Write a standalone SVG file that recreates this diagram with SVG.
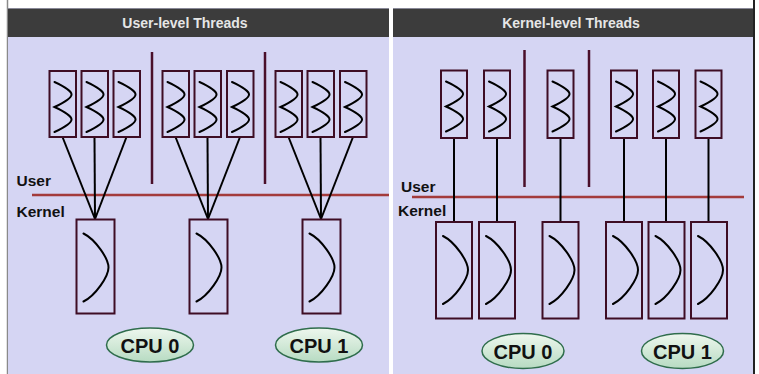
<svg xmlns="http://www.w3.org/2000/svg" width="759" height="374" viewBox="0 0 759 374">
<style>
.panel{fill:#d5d5f3}
.hdr{fill:#3c3c3c}
.hdrtxt{font-family:"Liberation Sans",Arial,sans-serif;font-weight:bold;font-size:14px;fill:#e6e6e6;text-anchor:middle}
.box{fill:none;stroke:#3e0d24;stroke-width:2}
.sq{fill:none;stroke:#000;stroke-width:2;stroke-linecap:round}
.div{stroke:#4a0f2a;stroke-width:2.5}
.uk{stroke:#a33b3b;stroke-width:2.5}
.lbl{font-family:"Liberation Sans",Arial,sans-serif;font-weight:bold;font-size:15.5px;fill:#111}
.conn{stroke:#000;stroke-width:2;fill:none}
.cpu{fill:url(#cpuGrad);stroke:#2f6d4c;stroke-width:1.5}
.cputxt{font-family:"Liberation Sans",Arial,sans-serif;font-weight:bold;font-size:20px;fill:#111;text-anchor:middle}
</style>
<defs>
<linearGradient id="cpuGrad" x1="0" y1="0" x2="0" y2="1">
<stop offset="0" stop-color="#eef7ee"/>
<stop offset="1" stop-color="#b7dbc2"/>
</linearGradient>
<path id="sqTop" d="M5,11 C27.7,21.6 27.7,25.4 5,36 C27.7,46.6 27.7,50.4 5,61"/>
<path id="sqK" d="M7,14 C19,20 32,39 32,48 C32,57 19,76 7,82"/>
</defs>

<!-- background frame -->
<rect x="0" y="0" width="759" height="374" fill="#ffffff"/>
<line x1="7.5" y1="0" x2="7.5" y2="374" stroke="#8a8a8a" stroke-width="1.5"/>
<line x1="754" y1="0" x2="754" y2="374" stroke="#222" stroke-width="2"/>

<!-- Left panel -->
<g id="panel-user">
<rect class="panel" x="8" y="8" width="381" height="366"/>
<rect class="hdr" x="8" y="8.5" width="381" height="28.5"/>
<text class="hdrtxt" x="185" y="28">User-level Threads</text>
</g>

<!-- Right panel -->
<g id="panel-kernel">
<rect class="panel" x="393" y="8" width="360" height="366"/>
<rect class="hdr" x="393" y="8.5" width="360" height="28.5"/>
<text class="hdrtxt" x="571" y="28">Kernel-level Threads</text>
</g>

<!-- separators and user/kernel lines -->
<g id="boundaries">
<line class="div" x1="152" y1="52" x2="152" y2="184"/>
<line class="div" x1="265" y1="52" x2="265" y2="184"/>
<line class="uk" x1="32" y1="195" x2="389" y2="195"/>
<text class="lbl" x="16.5" y="186">User</text>
<text class="lbl" x="16.5" y="217">Kernel</text>

<line class="div" x1="524.5" y1="50" x2="524.5" y2="187"/>
<line class="div" x1="589" y1="50" x2="589" y2="187"/>
<line class="uk" x1="412" y1="197" x2="744" y2="197"/>
<text class="lbl" x="401" y="192">User</text>
<text class="lbl" x="398" y="216">Kernel</text>
</g>

<!-- connectors -->
<g id="connectors">
<line class="conn" x1="62.5" y1="137" x2="95" y2="219"/>
<line class="conn" x1="94.5" y1="137" x2="95" y2="219"/>
<line class="conn" x1="126.5" y1="137" x2="95" y2="219"/>
<line class="conn" x1="175.5" y1="137" x2="208" y2="219"/>
<line class="conn" x1="207.5" y1="137" x2="208" y2="219"/>
<line class="conn" x1="240" y1="137" x2="208" y2="219"/>
<line class="conn" x1="288.5" y1="137" x2="321" y2="219"/>
<line class="conn" x1="320.5" y1="137" x2="321" y2="219"/>
<line class="conn" x1="353" y1="137" x2="321" y2="219"/>

<line class="conn" x1="454" y1="138" x2="454" y2="222"/>
<line class="conn" x1="497" y1="138" x2="497" y2="222"/>
<line class="conn" x1="560.5" y1="138" x2="560.5" y2="222"/>
<line class="conn" x1="624" y1="138" x2="624" y2="222"/>
<line class="conn" x1="666" y1="138" x2="666" y2="222"/>
<line class="conn" x1="708.5" y1="138" x2="708.5" y2="222"/>
</g>

<!-- Left: user threads -->
<g id="ut-l1" transform="translate(49.5,71)"><rect class="box" width="26.5" height="66"/><use href="#sqTop" class="sq"/></g>
<g id="ut-l2" transform="translate(81.5,71)"><rect class="box" width="26.5" height="66"/><use href="#sqTop" class="sq"/></g>
<g id="ut-l3" transform="translate(113.5,71)"><rect class="box" width="26.5" height="66"/><use href="#sqTop" class="sq"/></g>
<g id="ut-l4" transform="translate(162.5,71)"><rect class="box" width="26.5" height="66"/><use href="#sqTop" class="sq"/></g>
<g id="ut-l5" transform="translate(194.5,71)"><rect class="box" width="26.5" height="66"/><use href="#sqTop" class="sq"/></g>
<g id="ut-l6" transform="translate(227,71)"><rect class="box" width="26.5" height="66"/><use href="#sqTop" class="sq"/></g>
<g id="ut-l7" transform="translate(275.5,71)"><rect class="box" width="26.5" height="66"/><use href="#sqTop" class="sq"/></g>
<g id="ut-l8" transform="translate(307.5,71)"><rect class="box" width="26.5" height="66"/><use href="#sqTop" class="sq"/></g>
<g id="ut-l9" transform="translate(340,71)"><rect class="box" width="26.5" height="66"/><use href="#sqTop" class="sq"/></g>

<!-- Left: kernel threads -->
<g id="kt-l1" transform="translate(76.5,219.5)"><rect class="box" width="38" height="94"/><use href="#sqK" class="sq"/></g>
<g id="kt-l2" transform="translate(189.5,219.5)"><rect class="box" width="38" height="94"/><use href="#sqK" class="sq"/></g>
<g id="kt-l3" transform="translate(302.5,219.5)"><rect class="box" width="38" height="94"/><use href="#sqK" class="sq"/></g>

<!-- Left CPUs -->
<g id="cpu0-l"><ellipse class="cpu" cx="150" cy="345" rx="43.5" ry="17"/><text class="cputxt" x="150" y="352.5">CPU 0</text></g>
<g id="cpu1-l"><ellipse class="cpu" cx="319" cy="345" rx="43.5" ry="17"/><text class="cputxt" x="319" y="352.5">CPU 1</text></g>

<!-- Right: user threads -->
<g id="ut-r1" transform="translate(441,70.5)"><rect class="box" width="26" height="67.5"/><use href="#sqTop" class="sq"/></g>
<g id="ut-r2" transform="translate(484,70.5)"><rect class="box" width="26" height="67.5"/><use href="#sqTop" class="sq"/></g>
<g id="ut-r3" transform="translate(547.5,70.5)"><rect class="box" width="26" height="67.5"/><use href="#sqTop" class="sq"/></g>
<g id="ut-r4" transform="translate(611,70.5)"><rect class="box" width="26" height="67.5"/><use href="#sqTop" class="sq"/></g>
<g id="ut-r5" transform="translate(653,70.5)"><rect class="box" width="26" height="67.5"/><use href="#sqTop" class="sq"/></g>
<g id="ut-r6" transform="translate(695.5,70.5)"><rect class="box" width="26" height="67.5"/><use href="#sqTop" class="sq"/></g>

<!-- Right: kernel threads -->
<g id="kt-r1" transform="translate(436,222)"><rect class="box" width="36" height="96.5"/><use href="#sqK" class="sq"/></g>
<g id="kt-r2" transform="translate(479,222)"><rect class="box" width="36" height="96.5"/><use href="#sqK" class="sq"/></g>
<g id="kt-r3" transform="translate(542.5,222)"><rect class="box" width="36" height="96.5"/><use href="#sqK" class="sq"/></g>
<g id="kt-r4" transform="translate(606,222)"><rect class="box" width="36" height="96.5"/><use href="#sqK" class="sq"/></g>
<g id="kt-r5" transform="translate(648.5,222)"><rect class="box" width="36" height="96.5"/><use href="#sqK" class="sq"/></g>
<g id="kt-r6" transform="translate(691,222)"><rect class="box" width="36" height="96.5"/><use href="#sqK" class="sq"/></g>

<!-- Right CPUs -->
<g id="cpu0-r"><ellipse class="cpu" cx="523" cy="351" rx="41" ry="17.5"/><text class="cputxt" x="523" y="358.5">CPU 0</text></g>
<g id="cpu1-r"><ellipse class="cpu" cx="682.5" cy="351" rx="41" ry="17.5"/><text class="cputxt" x="682.5" y="358.5">CPU 1</text></g>
</svg>
